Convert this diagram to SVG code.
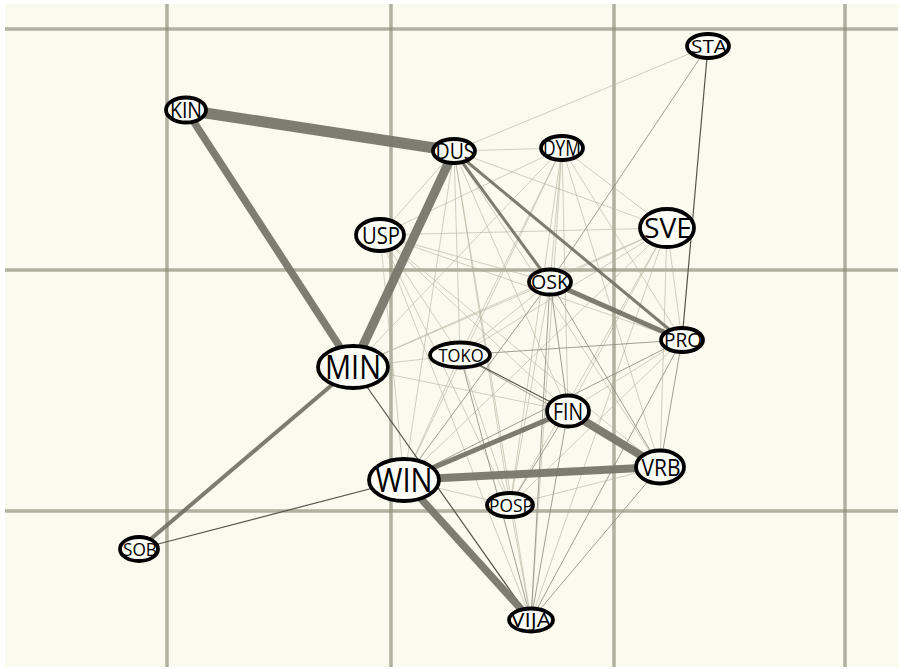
<svg xmlns="http://www.w3.org/2000/svg" width="901" height="669" viewBox="0 0 901 669">
<style>
.grid line{stroke:#8a8a78;stroke-opacity:.65;stroke-width:3.5}
.f{stroke:#b4b09e;stroke-width:.8;stroke-opacity:.75}
.l{stroke:#8a887a;stroke-width:1;stroke-opacity:.8}
.d{stroke:#55554c;stroke-width:1.2}
.m{stroke:#6e6e63;stroke-opacity:.9}
.t{stroke:#76766a;stroke-opacity:.95}
.node ellipse{fill:#fdfdf8;stroke:#000;stroke-width:3.8}
.node text{font-family:"Open Sans","DejaVu Sans",sans-serif;fill:#000;text-anchor:middle}
</style>
<rect width="901" height="669" fill="#ffffff"/>
<rect x="5" y="4" width="893" height="663" fill="#fafaee"/>
<g class="grid">
<line x1="5" y1="29" x2="898" y2="29"/>
<line x1="5" y1="270" x2="898" y2="270"/>
<line x1="5" y1="511" x2="898" y2="511"/>
<line x1="167" y1="4" x2="167" y2="667"/>
<line x1="391" y1="4" x2="391" y2="667"/>
<line x1="614" y1="4" x2="614" y2="667"/>
<line x1="845" y1="4" x2="845" y2="667"/>
</g>
<g id="edges">
<line class="f" x1="454" y1="151" x2="562" y2="148"/>
<line class="f" x1="454" y1="151" x2="667" y2="228"/>
<line class="f" x1="454" y1="151" x2="380" y2="235"/>
<line class="f" x1="454" y1="151" x2="460" y2="355"/>
<line class="f" x1="454" y1="151" x2="568" y2="411"/>
<line class="f" x1="454" y1="151" x2="660" y2="467"/>
<line class="f" x1="454" y1="151" x2="404" y2="480"/>
<line class="f" x1="454" y1="151" x2="510" y2="505"/>
<line class="f" x1="454" y1="151" x2="531" y2="620"/>
<line class="f" x1="454" y1="151" x2="708" y2="46"/>
<line class="f" x1="562" y1="148" x2="380" y2="235"/>
<line class="f" x1="562" y1="148" x2="667" y2="228"/>
<line class="f" x1="562" y1="148" x2="550" y2="282"/>
<line class="f" x1="562" y1="148" x2="682" y2="340"/>
<line class="f" x1="562" y1="148" x2="460" y2="355"/>
<line class="f" x1="562" y1="148" x2="568" y2="411"/>
<line class="f" x1="562" y1="148" x2="660" y2="467"/>
<line class="f" x1="562" y1="148" x2="404" y2="480"/>
<line class="f" x1="562" y1="148" x2="510" y2="505"/>
<line class="f" x1="562" y1="148" x2="531" y2="620"/>
<line class="f" x1="562" y1="148" x2="353" y2="367"/>
<line class="f" x1="380" y1="235" x2="667" y2="228"/>
<line class="f" x1="380" y1="235" x2="550" y2="282"/>
<line class="f" x1="380" y1="235" x2="682" y2="340"/>
<line class="f" x1="380" y1="235" x2="460" y2="355"/>
<line class="f" x1="380" y1="235" x2="568" y2="411"/>
<line class="f" x1="380" y1="235" x2="660" y2="467"/>
<line class="f" x1="380" y1="235" x2="404" y2="480"/>
<line class="f" x1="380" y1="235" x2="510" y2="505"/>
<line class="f" x1="380" y1="235" x2="531" y2="620"/>
<line class="f" x1="667" y1="228" x2="550" y2="282"/>
<line class="f" x1="667" y1="228" x2="682" y2="340"/>
<line class="f" x1="667" y1="228" x2="460" y2="355"/>
<line class="f" x1="667" y1="228" x2="568" y2="411"/>
<line class="f" x1="667" y1="228" x2="660" y2="467"/>
<line class="f" x1="667" y1="228" x2="404" y2="480"/>
<line class="f" x1="667" y1="228" x2="510" y2="505"/>
<line class="f" x1="667" y1="228" x2="531" y2="620"/>
<line class="f" x1="667" y1="228" x2="353" y2="367"/>
<line class="f" x1="550" y1="282" x2="460" y2="355"/>
<line class="f" x1="550" y1="282" x2="510" y2="505"/>
<line class="f" x1="550" y1="282" x2="353" y2="367"/>
<line class="f" x1="682" y1="340" x2="510" y2="505"/>
<line class="f" x1="682" y1="340" x2="568" y2="411"/>
<line class="f" x1="460" y1="355" x2="404" y2="480"/>
<line class="f" x1="460" y1="355" x2="510" y2="505"/>
<line class="f" x1="353" y1="367" x2="460" y2="355"/>
<line class="f" x1="353" y1="367" x2="568" y2="411"/>
<line class="f" x1="404" y1="480" x2="510" y2="505"/>
<line class="f" x1="510" y1="505" x2="531" y2="620"/>
<line class="f" x1="510" y1="505" x2="660" y2="467"/>
<line class="l" x1="708" y1="46" x2="550" y2="282"/>
<line class="l" x1="550" y1="282" x2="404" y2="480"/>
<line class="l" x1="550" y1="282" x2="531" y2="620"/>
<line class="l" x1="550" y1="282" x2="568" y2="411"/>
<line class="l" x1="550" y1="282" x2="660" y2="467"/>
<line class="l" x1="682" y1="340" x2="460" y2="355"/>
<line class="l" x1="682" y1="340" x2="404" y2="480"/>
<line class="l" x1="682" y1="340" x2="531" y2="620"/>
<line class="l" x1="682" y1="340" x2="660" y2="467"/>
<line class="l" x1="568" y1="411" x2="531" y2="620"/>
<line class="l" x1="568" y1="411" x2="510" y2="505"/>
<line class="l" x1="660" y1="467" x2="531" y2="620"/>
<line class="l" x1="660" y1="467" x2="460" y2="355"/>
<line class="l" x1="460" y1="355" x2="531" y2="620"/>
<line class="d" x1="708" y1="46" x2="682" y2="340"/>
<line class="d" x1="139" y1="549" x2="404" y2="480" stroke-width="1.5"/>
<line class="d" x1="353" y1="367" x2="531" y2="620" stroke-width="1.6"/>
<line class="d" x1="460" y1="355" x2="568" y2="411" stroke-width="1.5"/>
<line class="m" x1="454" y1="151" x2="550" y2="282" stroke-width="3"/>
<line class="m" x1="454" y1="151" x2="682" y2="340" stroke-width="3"/>
<line class="m" x1="550" y1="282" x2="682" y2="340" stroke-width="5"/>
<line class="m" x1="353" y1="367" x2="139" y2="549" stroke-width="4"/>
<line class="m" x1="404" y1="480" x2="568" y2="411" stroke-width="5"/>
<line class="t" x1="186" y1="110" x2="454" y2="151" stroke-width="11"/>
<line class="t" x1="186" y1="110" x2="353" y2="367" stroke-width="7.5"/>
<line class="t" x1="454" y1="151" x2="353" y2="367" stroke-width="9"/>
<line class="t" x1="404" y1="480" x2="660" y2="467" stroke-width="8"/>
<line class="t" x1="568" y1="411" x2="660" y2="467" stroke-width="8"/>
<line class="t" x1="404" y1="480" x2="531" y2="620" stroke-width="7.5"/>
</g>
<g id="KIN" class="node"><ellipse cx="186" cy="110" rx="20" ry="12.5"/><text x="186" y="117.5" font-size="21" textLength="32" lengthAdjust="spacingAndGlyphs">KIN</text></g>
<g id="DUS" class="node"><ellipse cx="454" cy="151" rx="21" ry="12"/><text x="455" y="158.5" font-size="21" textLength="39" lengthAdjust="spacingAndGlyphs">DUS</text></g>
<g id="DYM" class="node"><ellipse cx="562" cy="148" rx="21" ry="12"/><text x="562" y="155.5" font-size="21" textLength="38" lengthAdjust="spacingAndGlyphs">DYM</text></g>
<g id="STA" class="node"><ellipse cx="708" cy="46" rx="21" ry="12"/><text x="709" y="52.5" font-size="18" textLength="36" lengthAdjust="spacingAndGlyphs">STA</text></g>
<g id="USP" class="node"><ellipse cx="380" cy="235" rx="24" ry="16"/><text x="381" y="243.5" font-size="24" textLength="38" lengthAdjust="spacingAndGlyphs">USP</text></g>
<g id="SVE" class="node"><ellipse cx="667" cy="228" rx="27" ry="19"/><text x="668" y="237.5" font-size="27" textLength="48" lengthAdjust="spacingAndGlyphs">SVE</text></g>
<g id="OSK" class="node"><ellipse cx="550" cy="282" rx="21" ry="12.5"/><text x="550" y="289" font-size="20" textLength="38" lengthAdjust="spacingAndGlyphs">OSK</text></g>
<g id="PRO" class="node"><ellipse cx="682" cy="340" rx="21" ry="12"/><text x="683" y="347" font-size="20" textLength="38" lengthAdjust="spacingAndGlyphs">PRO</text></g>
<g id="MIN" class="node"><ellipse cx="353" cy="367" rx="35" ry="21"/><text x="353" y="378.5" font-size="32" textLength="56" lengthAdjust="spacingAndGlyphs">MIN</text></g>
<g id="TOKO" class="node"><ellipse cx="460" cy="355" rx="30" ry="12.5"/><text x="461" y="361.5" font-size="19" textLength="45" lengthAdjust="spacingAndGlyphs">TOKO</text></g>
<g id="FIN" class="node"><ellipse cx="568" cy="411" rx="21" ry="15.5"/><text x="568" y="419.5" font-size="24" textLength="30" lengthAdjust="spacingAndGlyphs">FIN</text></g>
<g id="VRB" class="node"><ellipse cx="660" cy="467" rx="24" ry="16.5"/><text x="661" y="475.5" font-size="24" textLength="39" lengthAdjust="spacingAndGlyphs">VRB</text></g>
<g id="WIN" class="node"><ellipse cx="404" cy="480" rx="35" ry="21"/><text x="404" y="491.5" font-size="32" textLength="57" lengthAdjust="spacingAndGlyphs">WIN</text></g>
<g id="POSP" class="node"><ellipse cx="510" cy="505" rx="23" ry="12"/><text x="511" y="512" font-size="19" textLength="44" lengthAdjust="spacingAndGlyphs">POSP</text></g>
<g id="SOB" class="node"><ellipse cx="139" cy="549" rx="19" ry="12"/><text x="140" y="555.5" font-size="18" textLength="34" lengthAdjust="spacingAndGlyphs">SOB</text></g>
<g id="VIJA" class="node"><ellipse cx="531" cy="620" rx="22" ry="11.5"/><text x="531" y="627" font-size="20" textLength="40" lengthAdjust="spacingAndGlyphs">VIJA</text></g>
</svg>
